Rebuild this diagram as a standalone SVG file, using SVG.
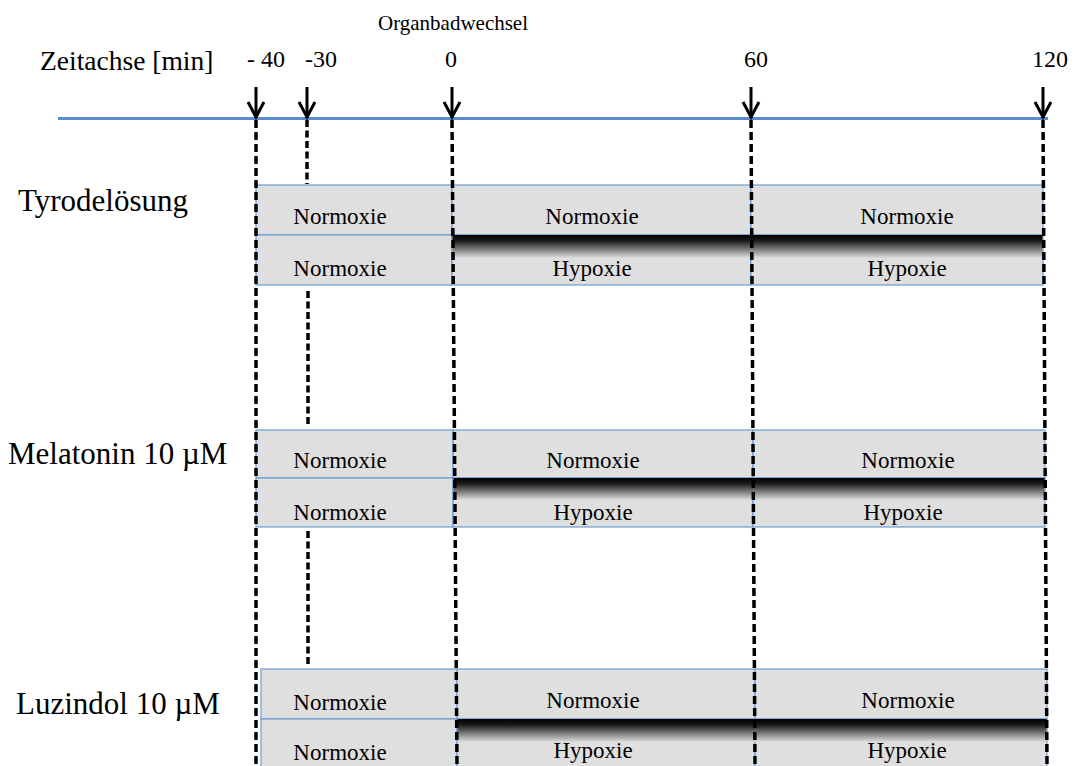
<svg xmlns="http://www.w3.org/2000/svg" width="1079" height="766" viewBox="0 0 1079 766" font-family="'Liberation Serif', 'Times New Roman', serif">
<defs>
<style>
.t{font-family:"Liberation Serif","Times New Roman",serif;fill:#000}
.lbl{font-size:31px}
.num{font-size:24px;text-anchor:middle}
.cell{font-size:23px;text-anchor:middle}
.box{fill:#dfdfdf;stroke:#6f9bd0;stroke-width:1.2}
.dash{stroke:#000;stroke-width:3.5;stroke-dasharray:8 4;fill:none}
.dash2{stroke:#000;stroke-width:3.5;stroke-dasharray:7 3.5;fill:none}
.arr{stroke:#000;stroke-width:3;fill:none}
</style>
<linearGradient id="hyp" x1="0" y1="0" x2="0" y2="1">
<stop offset="0" stop-color="#000"/>
<stop offset="0.25" stop-color="#1a1a1a"/>
<stop offset="1" stop-color="#dfdfdf"/>
</linearGradient>
</defs>
<rect width="1079" height="766" fill="#fff"/>

<g id="header">
<text class="t" x="453" y="30" font-size="21" text-anchor="middle">Organbadwechsel</text>
<text class="t" x="40" y="70" font-size="27.5">Zeitachse [min]</text>
<text class="t num" x="266" y="67">- 40</text>
<text class="t num" x="321" y="67">-30</text>
<text class="t num" x="451" y="67">0</text>
<text class="t num" x="756" y="67">60</text>
<text class="t num" x="1050" y="67">120</text>
</g>

<g id="timeline">
<line x1="58" y1="118.5" x2="1048" y2="118.5" stroke="#5b8ccc" stroke-width="3"/>
</g>

<g id="tyrode">
<text class="t lbl" x="18" y="211">Tyrodelösung</text>
<rect class="box" x="256" y="185" width="196" height="50"/>
<rect class="box" x="452" y="185" width="299" height="50"/>
<rect class="box" x="751" y="185" width="292" height="50"/>
<rect class="box" x="256" y="235" width="196" height="50"/>
<rect class="box" x="452" y="235" width="299" height="50"/>
<rect class="box" x="751" y="235" width="292" height="50"/>
<rect x="452.5" y="235" width="590" height="23" fill="url(#hyp)"/>
<text class="t cell" x="340" y="224">Normoxie</text>
<text class="t cell" x="592" y="224">Normoxie</text>
<text class="t cell" x="907" y="224">Normoxie</text>
<text class="t cell" x="340" y="276">Normoxie</text>
<text class="t cell" x="592" y="276">Hypoxie</text>
<text class="t cell" x="907" y="276">Hypoxie</text>
</g>

<g id="melatonin">
<text class="t lbl" x="8" y="464">Melatonin 10 µM</text>
<rect class="box" x="256" y="430" width="197" height="48"/>
<rect class="box" x="453" y="430" width="300" height="48"/>
<rect class="box" x="753" y="430" width="292" height="48"/>
<rect class="box" x="256" y="478" width="197" height="49"/>
<rect class="box" x="453" y="478" width="300" height="49"/>
<rect class="box" x="753" y="478" width="292" height="49"/>
<rect x="453.5" y="478" width="591" height="22" fill="url(#hyp)"/>
<text class="t cell" x="340" y="468">Normoxie</text>
<text class="t cell" x="593" y="468">Normoxie</text>
<text class="t cell" x="908" y="468">Normoxie</text>
<text class="t cell" x="340" y="520">Normoxie</text>
<text class="t cell" x="593" y="520">Hypoxie</text>
<text class="t cell" x="903" y="520">Hypoxie</text>
</g>

<g id="luzindol">
<text class="t lbl" x="16" y="714">Luzindol 10 µM</text>
<rect class="box" x="261" y="669" width="196" height="50"/>
<rect class="box" x="457" y="669" width="298" height="50"/>
<rect class="box" x="755" y="669" width="292" height="50"/>
<rect class="box" x="261" y="719" width="196" height="52"/>
<rect class="box" x="457" y="719" width="298" height="52"/>
<rect class="box" x="755" y="719" width="292" height="52"/>
<rect x="457.5" y="719" width="589" height="23" fill="url(#hyp)"/>
<text class="t cell" x="340" y="710">Normoxie</text>
<text class="t cell" x="593" y="708">Normoxie</text>
<text class="t cell" x="908" y="708">Normoxie</text>
<text class="t cell" x="340" y="760">Normoxie</text>
<text class="t cell" x="593" y="758">Hypoxie</text>
<text class="t cell" x="907" y="758">Hypoxie</text>
</g>

<g id="connectors">
<line class="arr" x1="256" y1="87" x2="256" y2="118"/>
<polyline class="arr" points="248,102 256,117 264,102"/>
<line class="arr" x1="307" y1="87" x2="307" y2="118"/>
<polyline class="arr" points="299,102 307,117 315,102"/>
<line class="arr" x1="452" y1="87" x2="452" y2="118"/>
<polyline class="arr" points="444,102 452,117 460,102"/>
<line class="arr" x1="751" y1="87" x2="751" y2="118"/>
<polyline class="arr" points="743,102 751,117 759,102"/>
<line class="arr" x1="1043" y1="87" x2="1043" y2="118"/>
<polyline class="arr" points="1035,102 1043,117 1051,102"/>

<line class="dash" x1="256" y1="120" x2="256" y2="766"/>
<line class="dash" x1="452" y1="120" x2="457" y2="766"/>
<line class="dash" x1="751" y1="120" x2="755" y2="766"/>
<line class="dash" x1="1043" y1="120" x2="1047" y2="766"/>

<line class="dash2" x1="307" y1="120" x2="307" y2="184"/>
<line class="dash2" x1="308" y1="291" x2="308" y2="426"/>
<line class="dash2" x1="308" y1="531" x2="308" y2="665"/>
</g>
</svg>
